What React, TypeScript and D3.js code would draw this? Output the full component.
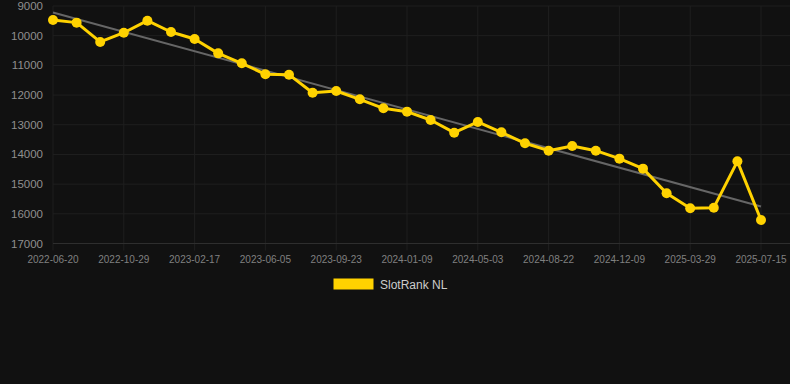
import React from "react";
import * as d3 from "d3";

const dates = [
  "2022-06-20", "2022-07-31", "2022-09-14",
  "2022-10-29", "2022-12-05", "2023-01-11",
  "2023-02-17", "2023-03-25", "2023-04-30",
  "2023-06-05", "2023-07-12", "2023-08-17",
  "2023-09-23", "2023-10-30", "2023-12-04",
  "2024-01-09", "2024-02-15", "2024-03-26",
  "2024-05-03", "2024-06-09", "2024-07-16",
  "2024-08-22", "2024-09-28", "2024-11-03",
  "2024-12-09", "2025-01-14", "2025-02-20",
  "2025-03-29", "2025-05-04", "2025-06-09",
  "2025-07-15",
];

const ranks = [
  9470, 9560, 10210, 9900, 9495, 9876, 10110, 10595, 10930, 11300,
  11313, 11920, 11863, 12143, 12446, 12559, 12840, 13267, 12907, 13255,
  13625, 13873, 13715, 13873, 14142, 14479, 15310, 15815, 15793, 14232,
  16208,
];

const yTicks = [9000, 10000, 11000, 12000, 13000, 14000, 15000, 16000, 17000];
const seriesName = "SlotRank NL";

const W = 790;
const H = 384;
const left = 53;
const right = 761;
const top = 6;
const bottom = 243.5;

export default function App() {
  const x = d3.scalePoint<number>().domain(dates.map((_, i) => i)).range([left, right]);
  const y = d3.scaleLinear().domain([9000, 17000]).range([top, bottom]);

  const n = ranks.length;
  const mx = d3.mean(ranks.map((_, i) => i)) as number;
  const my = d3.mean(ranks) as number;
  let num = 0;
  let den = 0;
  ranks.forEach((v, i) => {
    num += (i - mx) * (v - my);
    den += (i - mx) * (i - mx);
  });
  const slope = num / den;
  const icpt = my - slope * mx;

  const line = d3
    .line<number>()
    .x((_, i) => x(i) as number)
    .y((d) => y(d));

  const tickIdx = dates.map((_, i) => i).filter((i) => i % 3 === 0);

  return (
    <div style={{ position: "absolute", left: 0, top: 0 }}>
      <svg width={W} height={H} style={{ display: "block", background: "#111111" }}>
        <rect x={0} y={0} width={W} height={H} fill="#111111" />
        {yTicks.map((t) => (
          <line key={"gy" + t} x1={left} x2={W} y1={y(t)} y2={y(t)} stroke="#1f1f1f" strokeWidth={1} />
        ))}
        {tickIdx.map((i) => (
          <line key={"gx" + i} x1={x(i)} x2={x(i)} y1={top} y2={bottom + 7} stroke="#1f1f1f" strokeWidth={1} />
        ))}
        <line x1={left} x2={W} y1={bottom} y2={bottom} stroke="#2e2e2e" strokeWidth={1} />
        {yTicks.map((t) => (
          <text
            key={"ly" + t}
            x={43}
            y={y(t)}
            dy="0.35em"
            textAnchor="end"
            fill="#8f8f8f"
            fontFamily="Liberation Sans, Arial, sans-serif"
            fontSize={11.5}
          >
            {t}
          </text>
        ))}
        {tickIdx.map((i) => (
          <text
            key={"lx" + i}
            x={x(i)}
            y={262.5}
            textAnchor="middle"
            fill="#808080"
            fontFamily="Liberation Sans, Arial, sans-serif"
            fontSize={10}
          >
            {dates[i]}
          </text>
        ))}
        <line
          x1={x(0)}
          x2={x(n - 1)}
          y1={y(icpt)}
          y2={y(icpt + slope * (n - 1))}
          stroke="#666666"
          strokeWidth={2}
        />
        <path d={line(ranks) || ""} fill="none" stroke="#FFD200" strokeWidth={3} strokeLinejoin="round" />
        {ranks.map((v, i) => (
          <circle key={"p" + i} cx={x(i)} cy={y(v)} r={5} fill="#FFD200" />
        ))}
        <rect x={333.5} y={278.5} width={40} height={11} fill="#FFD200" />
        <text
          x={380}
          y={288.5}
          fill="#cccccc"
          fontFamily="Liberation Sans, Arial, sans-serif"
          fontSize={12}
        >
          {seriesName}
        </text>
      </svg>
    </div>
  );
}
